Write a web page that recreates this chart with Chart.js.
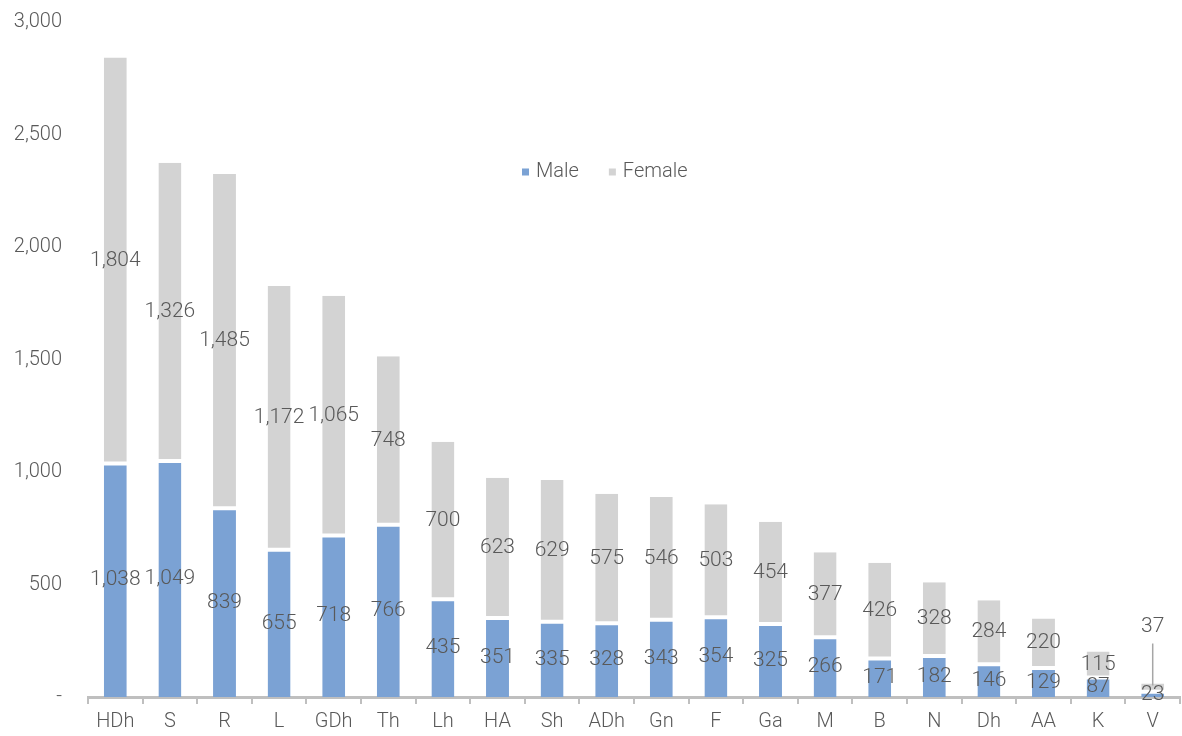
<!DOCTYPE html>
<html>
<head>
<meta charset="utf-8">
<script src="https://cdn.jsdelivr.net/npm/chart.js@4/dist/chart.umd.min.js"></script>
<style>
  html, body { margin: 0; padding: 0; background: #fff; }
  #wrap { width: 1182px; height: 736px; position: relative; }
</style>
</head>
<body>
<div id="wrap"><canvas id="canvas"></canvas></div>
<script>
const categories = ['HDh', 'S', 'R', 'L', 'GDh', 'Th', 'Lh', 'HA', 'Sh', 'ADh', 'Gn', 'F', 'Ga', 'M', 'B', 'N', 'Dh', 'AA', 'K', 'V']
const male = [1038, 1049, 839, 655, 718, 766, 435, 351, 335, 328, 343, 354, 325, 266, 171, 182, 146, 129, 87, 23]
const female = [1804, 1326, 1485, 1172, 1065, 748, 700, 623, 629, 575, 546, 503, 454, 377, 426, 328, 284, 220, 115, 37]
const yTicks = [0, 500, 1000, 1500, 2000, 2500, 3000]

const TEXT = '#595959'
const BLUE = '#7BA2D4'
const GREY = '#D3D3D3'
const FONT = 'Roboto, "Open Sans", sans-serif'

function fmt(v) {
  return v === 0 ? '-' : v.toLocaleString('en-US')
}

// value labels in the middle of each segment, V's small female one pulled up with a leader line
const barLabels = {
  id: 'barLabels',
  afterDatasetsDraw(chart) {
    const ctx = chart.ctx
    ctx.save()
    ctx.font = '300 21px ' + FONT
    ctx.fillStyle = TEXT
    ctx.textAlign = 'center'
    ctx.textBaseline = 'middle'
    chart.data.datasets.forEach((ds, di) => {
      const meta = chart.getDatasetMeta(di)
      meta.data.forEach((bar, i) => {
        const mid = (bar.y + bar.base) / 2
        if (di === 1 && i === categories.length - 1) {
          const ly = bar.y - 57
          ctx.fillText(fmt(ds.data[i]), bar.x, ly)
          ctx.strokeStyle = '#A6A6A6'
          ctx.lineWidth = 1.5
          ctx.beginPath()
          ctx.moveTo(bar.x, ly + 17)
          ctx.lineTo(bar.x, bar.y + 2)
          ctx.stroke()
        } else {
          ctx.fillText(fmt(ds.data[i]), bar.x, mid)
        }
      })
    })
    ctx.restore()
  }
}

// legend floating inside the plot, like the original
const floatLegend = {
  id: 'floatLegend',
  afterDraw(chart) {
    const ctx = chart.ctx
    ctx.save()
    ctx.font = '300 20px ' + FONT
    ctx.textBaseline = 'middle'
    ctx.textAlign = 'left'
    let x = 522
    const y = 172
    chart.data.datasets.forEach(ds => {
      ctx.fillStyle = ds.backgroundColor
      ctx.fillRect(x, y - 3.5, 7, 7)
      ctx.fillStyle = TEXT
      ctx.fillText(ds.label, x + 14, y)
      x += 14 + ctx.measureText(ds.label).width + 30
    })
    ctx.restore()
  }
}

document.addEventListener('DOMContentLoaded', function () {
  const ctx = document.getElementById('canvas').getContext('2d')
  new Chart(ctx, {
    type: 'bar',
    data: {
      labels: categories,
      datasets: [{
        label: 'Male',
        data: male,
        backgroundColor: BLUE,
        borderColor: '#fff',
        borderWidth: { top: 2 },
        borderSkipped: 'bottom',
        barPercentage: 0.84,
        categoryPercentage: 0.5
      }, {
        label: 'Female',
        data: female,
        backgroundColor: GREY,
        borderColor: '#fff',
        borderWidth: { bottom: 2 },
        borderSkipped: 'top',
        barPercentage: 0.84,
        categoryPercentage: 0.5
      }]
    },
    options: {
      responsive: true,
      maintainAspectRatio: false,
      animation: false,
      layout: { padding: { left: 12, right: 2, top: 22, bottom: -4 } },
      plugins: {
        legend: { display: false },
        tooltip: { enabled: false }
      },
      scales: {
        x: {
          stacked: true,
          grid: {
            offset: true,
            drawOnChartArea: false,
            drawTicks: true,
            tickLength: 7,
            color: '#BFBFBF',
            lineWidth: 2
          },
          border: { display: true, color: '#BFBFBF', width: 3 },
          ticks: { color: TEXT, font: { family: FONT, size: 20, weight: 300 }, padding: 6, maxRotation: 0 }
        },
        y: {
          stacked: true,
          min: 0,
          max: 3000,
          afterBuildTicks(axis) {
            axis.ticks = yTicks.map(v => ({ value: v }))
          },
          afterFit(axis) {
            axis.width = 76
            axis.paddingTop = 0
          },
          grid: { display: false, drawTicks: false },
          border: { display: false },
          ticks: {
            color: TEXT,
            font: { family: FONT, size: 20, weight: 300 },
            padding: 26,
            callback: v => fmt(v)
          }
        }
      }
    },
    plugins: [barLabels, floatLegend]
  })
})
</script>
</body>
</html>
